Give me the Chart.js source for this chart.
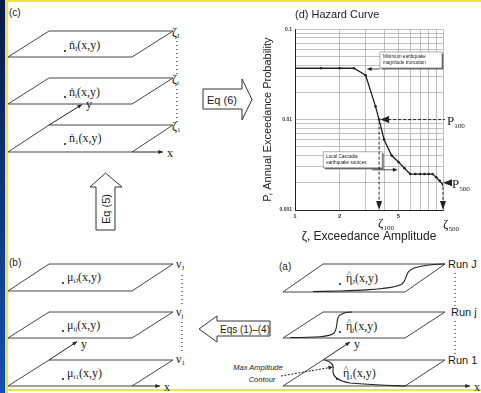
<!DOCTYPE html>
<html>
<head>
<meta charset="utf-8">
<script src="https://cdn.jsdelivr.net/npm/chart.js@4/dist/chart.umd.min.js"></script>
<style>
  body { margin: 0; background: #fff; }
  #wrap { position: relative; width: 481px; height: 393px; overflow: hidden; background: #fff; }
  .abs { position: absolute; }
  #band { left: 0; top: 0; width: 5px; height: 393px; background: linear-gradient(#0a1a40, #1550b2); }
  #yl { left: 5px; top: 0; width: 3px; height: 393px; background: #f1e24c; }
  #yt { left: 5px; top: 0; width: 476px; height: 2px; background: #f1e24c; }
  #yb { left: 5px; top: 389px; width: 476px; height: 2px; background: #f1e24c; }
  svg, canvas { position: absolute; left: 0; top: 0; }
</style>
</head>
<body>
<div id="wrap">
  <div class="abs" id="band"></div>
  <div class="abs" id="yl"></div>
  <div class="abs" id="yt"></div>
  <div class="abs" id="yb"></div>
  <svg id="diag" width="481" height="393"></svg>
  <canvas id="hazard" width="481" height="393"></canvas>
</div>
<script>
// hazard curve values
var amplitude   = [1, 1.5, 2, 2.5, 3, 3.5, 3.7, 4, 4.5, 5, 5.5, 6, 6.5, 7, 7.5, 8, 8.5, 9, 9.5, 10];
var probability = [0.037, 0.037, 0.037, 0.037, 0.031, 0.014, 0.010, 0.006, 0.004, 0.0034, 0.0029, 0.0025, 0.0025, 0.0025, 0.0025, 0.0025, 0.0025, 0.0023, 0.0021, 0.0019];
var xLabels = [1, 2, 5];
var yLabels = [0.001, 0.01, 0.1];
var zeta100 = 3.7, p100 = 0.01;
var zeta500 = 10, p500 = 0.002;

// ---------- left-hand diagrams (svg) ----------
var svg = '';
var LINE = '#444';
function plane(x0, yTop, yBot, w, dx) {
  return '<polygon points="' + x0 + ',' + yBot + ' ' + (x0 + w) + ',' + yBot + ' ' + (x0 + w + dx) + ',' + yTop + ' ' + (x0 + dx) + ',' + yTop +
    '" fill="none" stroke="' + LINE + '" stroke-width="1"/>';
}
function arrow(x1, y1, x2, y2, dash) {
  var a = Math.atan2(y2 - y1, x2 - x1), s = 5;
  var p1x = x2 - s * Math.cos(a - 0.4), p1y = y2 - s * Math.sin(a - 0.4);
  var p2x = x2 - s * Math.cos(a + 0.4), p2y = y2 - s * Math.sin(a + 0.4);
  return '<line x1="' + x1 + '" y1="' + y1 + '" x2="' + x2 + '" y2="' + y2 + '" stroke="#222" stroke-width="1"' + (dash ? ' stroke-dasharray="2,1.5"' : '') + '/>' +
    '<polygon points="' + x2 + ',' + y2 + ' ' + p1x + ',' + p1y + ' ' + p2x + ',' + p2y + '" fill="#222"/>';
}
function dot(x, y) { return '<circle cx="' + x + '" cy="' + y + '" r="1.1" fill="#222"/>'; }
function sym(x, y, base, sub, rest, hat) {
  var t = '<text x="' + x + '" y="' + y + '" font-family="Liberation Serif, serif" font-size="12" fill="#1a1a1a">' + base +
    '<tspan font-size="7" dy="2">' + sub + '</tspan>' + (rest ? '<tspan dy="-2">' + rest + '</tspan>' : '') + '</text>';
  if (hat) t += '<text x="' + (x + 1) + '" y="' + (y - 5.5) + '" font-family="Liberation Serif, serif" font-size="9" fill="#1a1a1a">^</text>';
  return t;
}
function label(x, y, s, size) {
  return '<text x="' + x + '" y="' + y + '" font-family="Liberation Sans, Arial, sans-serif" font-size="' + size + '" fill="#1a1a1a">' + s + '</text>';
}
function dotted(x, y1, y2) {
  return '<line x1="' + x + '" y1="' + y1 + '" x2="' + x + '" y2="' + y2 + '" stroke="#333" stroke-width="1.2" stroke-dasharray="1,3"/>';
}

// (c)
svg += label(9, 16, '(c)', 10);
svg += plane(8, 31, 57, 124, 41) + plane(8, 78, 104, 124, 41) + plane(8, 125, 152, 124, 41);
svg += arrow(132, 152, 163, 152) + arrow(49, 125, 82, 104.5);
svg += sym(167, 157, 'x', '', '') + sym(86, 108, 'y', '', '');
svg += dot(65, 51) + sym(69, 49, 'ṅ', 'I', '(x,y)') + dot(65, 97) + sym(69, 96, 'ṅ', 'i', '(x,y)') + dot(65, 144) + sym(69, 142, 'ṅ', '1', '(x,y)');
svg += sym(172, 36, 'ζ', 'I', '') + sym(172, 83, 'ζ', 'i', '') + sym(172, 130, 'ζ', '1', '');
svg += dotted(177, 41, 75) + dotted(177, 89, 122);
svg += '<polygon points="203,89 242,89 242,79 252,99.5 242,120 242,109 203,109" fill="#fff" stroke="#333" stroke-width="1"/>';
svg += label(207, 104, 'Eq (6)', 11);
svg += '<polygon points="96,230 96,187 90,187 105.5,173 122,187 115,187 115,230" fill="#fff" stroke="#333" stroke-width="1"/>';
svg += '<text transform="translate(109.5,209) rotate(-90)" text-anchor="middle" font-family="Liberation Sans, Arial, sans-serif" font-size="11" fill="#1a1a1a">Eq (5)</text>';

// (b)
svg += label(9, 266, '(b)', 10);
svg += plane(8, 264, 291, 124, 41) + plane(8, 312, 338, 124, 41) + plane(8, 360, 386, 124, 41);
svg += arrow(132, 386, 160, 386) + arrow(49, 360, 77, 341.6);
svg += sym(164, 391, 'x', '', '') + sym(81, 348, 'y', '', '');
svg += dot(63, 283) + sym(67, 281, 'μ', 'iJ', '(x,y)') + dot(63, 331) + sym(67, 329, 'μ', 'ij', '(x,y)') + dot(63, 379) + sym(67, 377, 'μ', 'i1', '(x,y)');
svg += sym(176, 268, 'ν', 'J', '') + sym(176, 316, 'ν', 'j', '') + sym(176, 363, 'ν', '1', '');
svg += dotted(182, 275, 306) + dotted(182, 322, 354);
svg += '<polygon points="270,321 217,321 217,316 199,329 217,342 217,336 270,336" fill="#fff" stroke="#333" stroke-width="1"/>';
svg += label(220, 333, 'Eqs (1)–(4)', 10);

// (a)
svg += label(279, 270, '(a)', 10);
svg += plane(283, 264, 292, 122, 40) + plane(283, 312, 338, 122, 40) + plane(283, 360, 386, 122, 40);
svg += arrow(405, 386, 470, 386) + arrow(323, 360, 350, 342);
svg += sym(474, 391, 'x', '', '') + sym(354, 348, 'y', '', '');
svg += '<path d="M313,291.5 C360,291 395,289 402,284 C408,279 404,272 414,268 C425,265 435,264 445,264" fill="none" stroke="#222" stroke-width="1.1"/>';
svg += '<path d="M290,337.5 C315,337.5 330,337 334,333 C339,327 335,318 340,315 C343,313 347,312 352,312" fill="none" stroke="#222" stroke-width="1.1"/>';
svg += '<path d="M325,360 C332,362 334,366 333,370 C332,376 338,381 350,383 C370,385 390,385.5 405,386" fill="none" stroke="#222" stroke-width="1.1"/>';
svg += dot(340, 284) + sym(346, 282, 'η', 'J', '(x,y)', true) + dot(340, 332) + sym(346, 330, 'η', 'j', '(x,y)', true) + dot(337, 379) + sym(343, 377, 'η', '1', '(x,y)', true);
svg += label(448, 268, 'Run J', 11) + label(451, 316, 'Run j', 11) + label(448, 364, 'Run 1', 11);
svg += dotted(455, 273, 306) + dotted(455, 321, 356);
svg += '<text x="258" y="370" text-anchor="middle" font-family="Liberation Sans, Arial, sans-serif" font-style="italic" font-size="7.5" fill="#222">Max Amplitude</text>';
svg += '<text x="262" y="382" text-anchor="middle" font-family="Liberation Sans, Arial, sans-serif" font-style="italic" font-size="7.5" fill="#222">Contour</text>';
svg += arrow(281, 376, 333, 367, true);
document.getElementById('diag').innerHTML = svg;

// ---------- hazard curve ----------
function isLabel(list, v) {
  return list.some(function (l) { return Math.abs(v - l) / l < 1e-6; });
}
function integerTicks(scale) {
  scale.ticks = scale.ticks.filter(function (t) {
    var m = t.value / Math.pow(10, Math.floor(Math.log10(t.value) + 1e-9));
    return Math.abs(m - Math.round(m)) < 1e-6;
  });
}

var annotations = {
  id: 'annotations',
  afterDatasetsDraw: function (chart) {
    var ctx = chart.ctx, xs = chart.scales.x, ys = chart.scales.y, area = chart.chartArea;
    function head(x, y, dir, len, wid) {
      ctx.beginPath();
      ctx.moveTo(x, y);
      if (dir === 'left') { ctx.lineTo(x + len, y - wid); ctx.lineTo(x + len, y + wid); }
      if (dir === 'right') { ctx.lineTo(x - len, y - wid); ctx.lineTo(x - len, y + wid); }
      if (dir === 'down') { ctx.lineTo(x - wid, y - len); ctx.lineTo(x + wid, y - len); }
      ctx.closePath();
      ctx.fill();
    }
    function note(lines, xv, yv, w, h) {
      var x = xs.getPixelForValue(xv), y = ys.getPixelForValue(yv);
      ctx.fillStyle = '#666';
      ctx.fillRect(x + 1.5, y + 1.5, w, h);
      ctx.fillStyle = '#fff';
      ctx.fillRect(x, y, w, h);
      ctx.strokeStyle = '#777';
      ctx.lineWidth = 0.6;
      ctx.strokeRect(x, y, w, h);
      ctx.fillStyle = '#222';
      ctx.font = '4.6px Liberation Sans, Arial, sans-serif';
      ctx.textAlign = 'left';
      ctx.textBaseline = 'middle';
      lines.forEach(function (s, i) { ctx.fillText(s, x + 3, y + 5 + i * 6); });
      return {x: x, y: y};
    }
    function sub(x, y, base, s, size) {
      ctx.font = size + 'px Liberation Serif, serif';
      ctx.textAlign = 'left';
      ctx.textBaseline = 'alphabetic';
      ctx.fillText(base, x, y);
      var w = ctx.measureText(base).width;
      ctx.font = (size * 0.55) + 'px Liberation Serif, serif';
      ctx.fillText(s, x + w, y + 3);
    }
    ctx.save();
    ctx.fillStyle = '#222';
    ctx.strokeStyle = '#222';

    // callout boxes
    var b1 = note(['Minimum earthquake', 'magnitude truncation'], 3.75, 0.056, 62, 16);
    ctx.strokeStyle = '#222'; ctx.fillStyle = '#222'; ctx.lineWidth = 0.8;
    ctx.beginPath(); ctx.moveTo(b1.x, b1.y + 17); ctx.lineTo(xs.getPixelForValue(3.05) + 4, b1.y + 17); ctx.stroke();
    head(xs.getPixelForValue(3.05), b1.y + 17, 'left', 5, 2);
    var b2 = note(['Local Cascadia', 'earthquake sources'], 1.55, 0.0044, 59, 16);
    ctx.strokeStyle = '#222'; ctx.fillStyle = '#222'; ctx.lineWidth = 0.8;
    var tip2 = xs.getPixelForValue(4.95);
    ctx.beginPath(); ctx.moveTo(b2.x + 49, b2.y + 18); ctx.lineTo(tip2 - 4, b2.y + 18); ctx.stroke();
    head(tip2, b2.y + 18, 'right', 5, 2);

    // P100 / zeta100
    var px = xs.getPixelForValue(zeta100), py = ys.getPixelForValue(p100);
    ctx.setLineDash([3, 2]);
    ctx.lineWidth = 1;
    ctx.beginPath(); ctx.moveTo(px + 9, py); ctx.lineTo(area.right + 2, py); ctx.stroke();
    ctx.beginPath(); ctx.moveTo(px, py + 2); ctx.lineTo(px, area.bottom - 8); ctx.stroke();
    ctx.setLineDash([]);
    head(px + 1, py, 'left', 9, 3.5);
    head(px, area.bottom, 'down', 9, 3);
    sub(area.right + 4, py + 5, 'P', '100', 13);
    sub(px - 1, area.bottom + 17, 'ζ', '100', 13);

    // P500 / zeta500
    var qx = xs.getPixelForValue(zeta500), qy = ys.getPixelForValue(p500);
    ctx.setLineDash([3, 2]);
    ctx.beginPath(); ctx.moveTo(qx, qy + 4); ctx.lineTo(qx, area.bottom - 8); ctx.stroke();
    ctx.setLineDash([]);
    head(qx, qy, 'left', 9, 3.5);
    head(qx, area.bottom, 'down', 9, 3);
    sub(qx + 9, qy + 5, 'P', '500', 13);
    sub(qx, area.bottom + 18, 'ζ', '500', 13);
    ctx.restore();
  }
};

var points = amplitude.map(function (a, i) { return {x: a, y: probability[i]}; });

new Chart(document.getElementById('hazard'), {
  type: 'line',
  data: {
    datasets: [{
      data: points,
      borderColor: '#222',
      backgroundColor: '#222',
      borderWidth: 1.3,
      pointRadius: 1.3,
      pointBorderWidth: 0,
      tension: 0
    }]
  },
  options: {
    responsive: false,
    animation: false,
    layout: { padding: { left: 261, right: 38, top: 8, bottom: 149 } },
    plugins: {
      legend: { display: false },
      tooltip: { enabled: false },
      title: {
        display: true,
        text: '(d) Hazard Curve',
        align: 'start',
        fullSize: false,
        color: '#222',
        font: { family: 'Liberation Sans, Arial, sans-serif', size: 11, weight: 'normal' },
        padding: { top: 0, bottom: 8 }
      }
    },
    scales: {
      x: {
        type: 'logarithmic',
        min: 1,
        max: 10,
        afterBuildTicks: integerTicks,
        afterFit: function (s) { s.height = 34; },
        grid: { color: '#b0b0b0', lineWidth: 0.8, drawTicks: false },
        border: { color: '#222', width: 1 },
        ticks: {
          autoSkip: false,
          maxRotation: 0,
          padding: 3,
          color: '#333',
          font: { family: 'Liberation Sans, Arial, sans-serif', size: 6, weight: 'bold' },
          callback: function (v) { return isLabel(xLabels, v) ? String(v) : ''; }
        },
        title: {
          display: true,
          text: 'ζ, Exceedance Amplitude',
          color: '#222',
          padding: 0,
          font: { family: 'Liberation Sans, Arial, sans-serif', size: 12 }
        }
      },
      y: {
        type: 'logarithmic',
        min: 0.001,
        max: 0.1,
        afterBuildTicks: integerTicks,
        afterFit: function (s) { s.width = 34; },
        grid: { color: '#b0b0b0', lineWidth: 0.8, drawTicks: false },
        border: { color: '#222', width: 1 },
        ticks: {
          autoSkip: false,
          padding: 3,
          color: '#333',
          font: { family: 'Liberation Sans, Arial, sans-serif', size: 5, weight: 'bold' },
          callback: function (v) { return isLabel(yLabels, v) ? String(v) : ''; }
        },
        title: {
          display: true,
          text: 'P, Annual Exceedance Probability',
          color: '#222',
          padding: 0,
          font: { family: 'Liberation Sans, Arial, sans-serif', size: 11 }
        }
      }
    }
  },
  plugins: [annotations]
});
</script>
</body>
</html>
